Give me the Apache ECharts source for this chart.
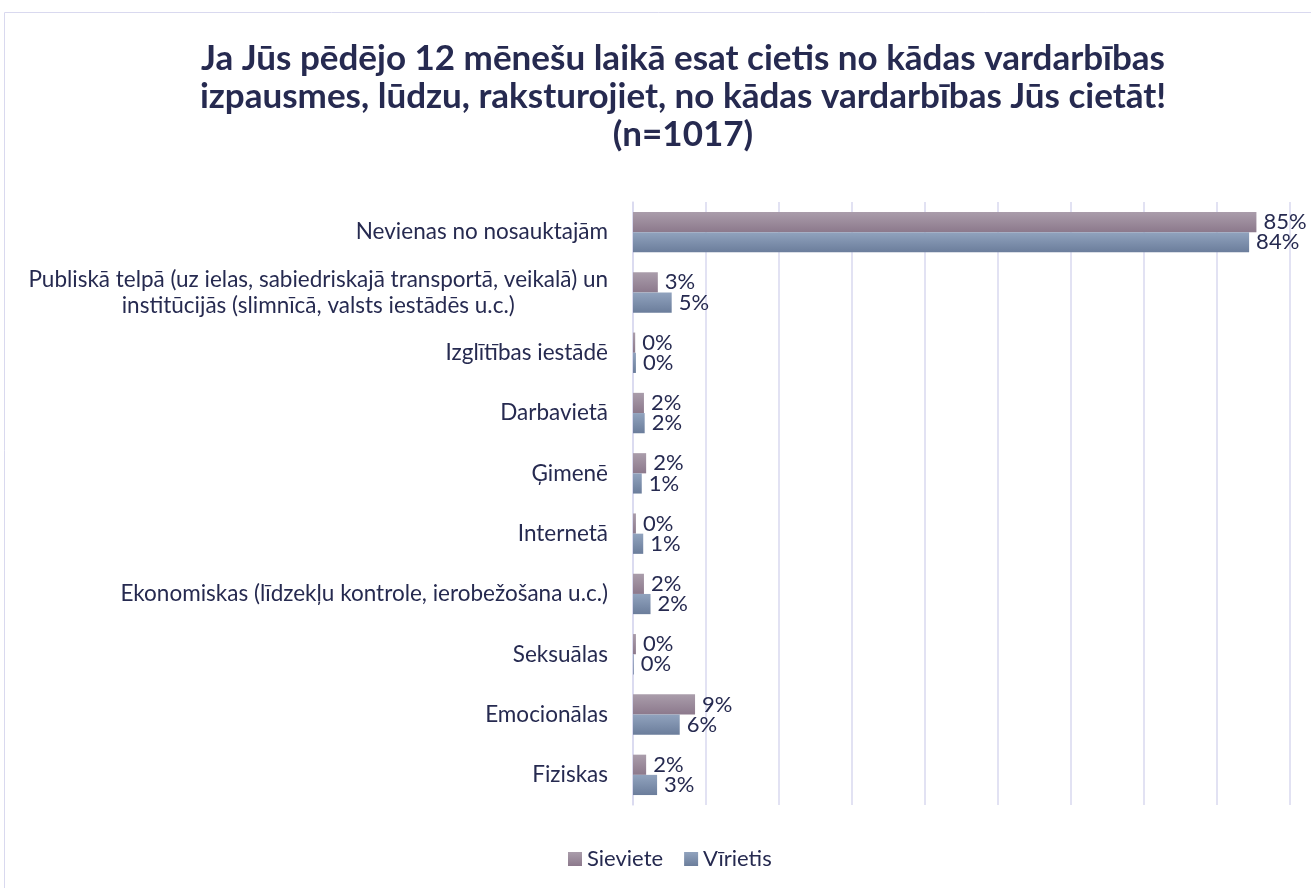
<!DOCTYPE html>
<html><head><meta charset="utf-8">
<script src="https://cdn.jsdelivr.net/npm/echarts@6/dist/echarts.min.js"></script>
<style>html,body{margin:0;padding:0;background:#fff}#c{width:1311px;height:888px}</style>
</head><body><div id="c"></div>
<script>
const categories = [
  "Nevienas no nosauktajām",
  "Publiskā telpā (uz ielas, sabiedriskajā transportā, veikalā) un\ninstitūcijās (slimnīcā, valsts iestādēs u.c.)",
  "Izglītības iestādē",
  "Darbavietā",
  "Ģimenē",
  "Internetā",
  "Ekonomiskas (līdzekļu kontrole, ierobežošana u.c.)",
  "Seksuālas",
  "Emocionālas",
  "Fiziskas"
];
const sieviete = [0.854, 0.034, 0.003, 0.015, 0.018, 0.004, 0.015, 0.004, 0.085, 0.018];
const virietis = [0.844, 0.053, 0.004, 0.016, 0.012, 0.014, 0.024, 0.001, 0.064, 0.033];
const seriesNames = ["Sieviete", "Vīrietis"];
const titleText = "Ja Jūs pēdējo 12 mēnešu laikā esat cietis no kādas vardarbības\nizpausmes, lūdzu, raksturojiet, no kādas vardarbības Jūs cietāt!\n(n=1017)";
const xTicks = {min: 0, max: 0.9, interval: 0.1};

const txt = '#262a50';
const font = 'Lato';
function grad(a, b) {
  return new echarts.graphic.LinearGradient(0, 0, 0, 1, [{offset: 0, color: a}, {offset: 1, color: b}]);
}
const chart = echarts.init(document.getElementById('c'));
const lbl = {
  show: true, position: 'right', distance: 7, color: txt, fontSize: 22, fontFamily: font,
  formatter: p => Math.round(p.value * 100) + '%'
};
chart.setOption({
  animation: false,
  legend: {
    bottom: 13, left: 563, itemWidth: 14, itemHeight: 14, itemGap: 21,
    icon: 'rect',
    textStyle: {fontFamily: font, fontSize: 22, color: txt}
  },
  graphic: [
    {type: 'rect', shape: {x: 4.5, y: 12.5, width: 1320, height: 900},
     style: {fill: 'none', stroke: '#d9d9ef', lineWidth: 1}, silent: true},
    {type: 'text', x: 683, y: 40, silent: true,
     style: {text: titleText, align: 'center', verticalAlign: 'top', fill: txt,
       font: 'bold 35px Lato', lineHeight: 38}}
  ],
  grid: {left: 633, right: 21, top: 202, bottom: 83, containLabel: false},
  xAxis: {
    type: 'value', min: xTicks.min, max: xTicks.max, interval: xTicks.interval,
    axisLabel: {show: false}, axisLine: {show: false}, axisTick: {show: false},
    splitLine: {lineStyle: {color: '#d9d9ef', width: 1.5}}
  },
  yAxis: {
    type: 'category', data: categories, inverse: true,
    axisLine: {lineStyle: {color: '#d9d9ef', width: 1.5}}, axisTick: {show: false},
    axisLabel: {
      color: txt, fontSize: 22.5, fontFamily: font, margin: 25, lineHeight: 26,
      formatter: v => v.indexOf('\n') >= 0 ? v.split('\n').map(s => '{c|' + s + '}').join('\n') : v,
      rich: {c: {align: 'center', color: txt, fontSize: 22.5, fontFamily: font, lineHeight: 26}}
    }
  },
  series: [
    {name: seriesNames[0], type: 'bar', data: sieviete, barGap: '0%', barCategoryGap: '33%',
     itemStyle: {color: grad('#aa9dab', '#8c798c')}, label: lbl},
    {name: seriesNames[1], type: 'bar', data: virietis,
     itemStyle: {color: grad('#91a3be', '#6b7d9b')}, label: lbl}
  ]
});
</script></body></html>
